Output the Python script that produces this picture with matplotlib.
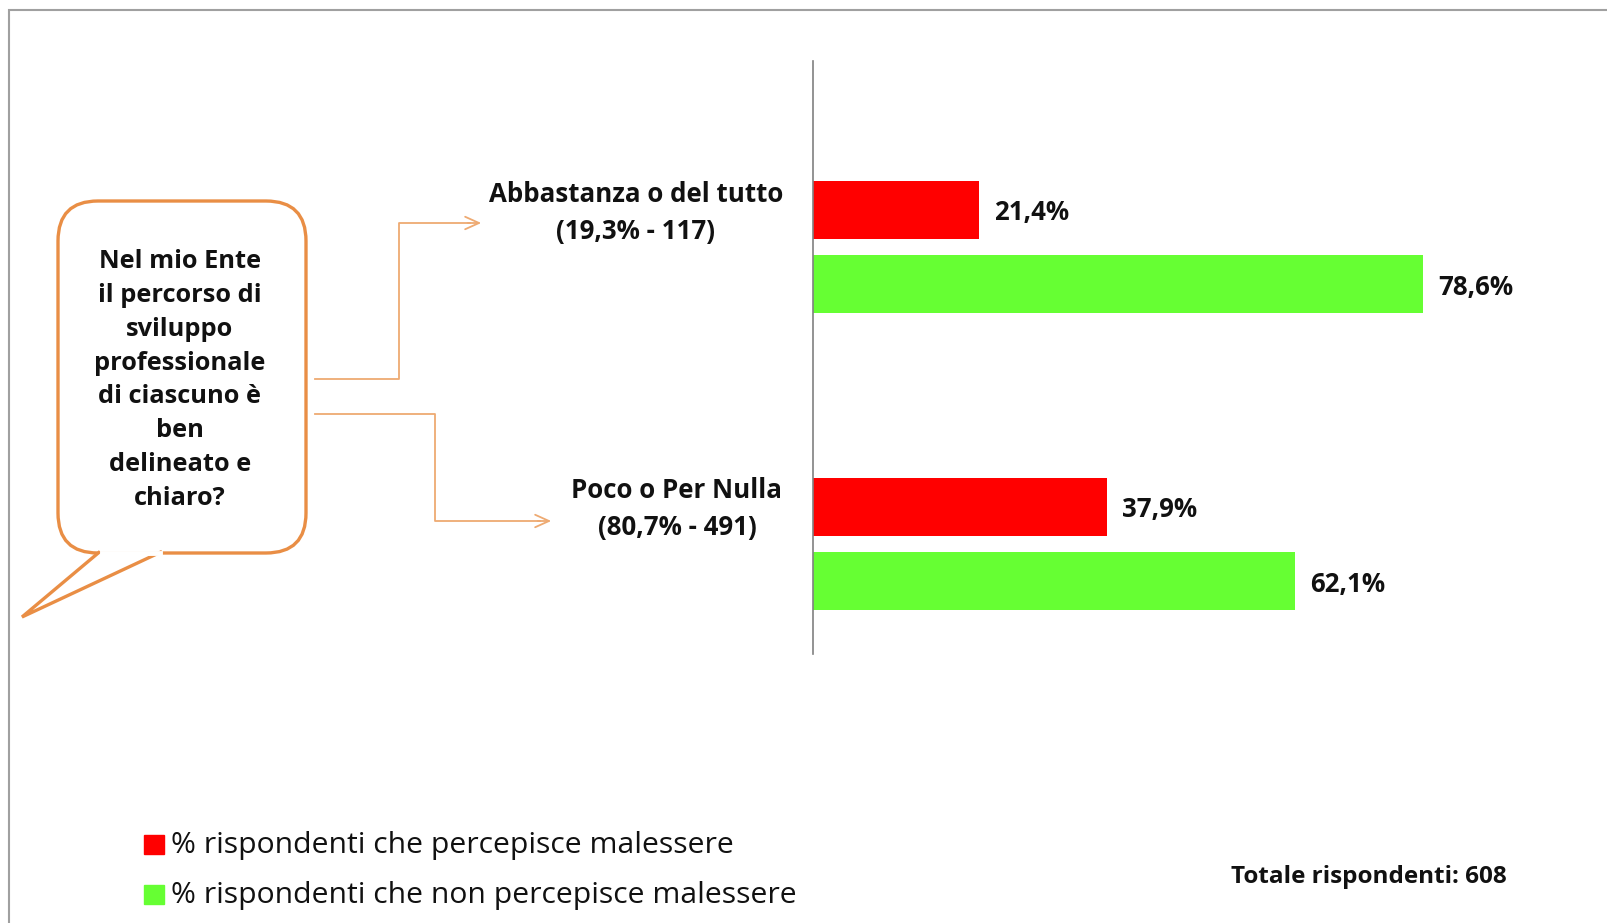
import numpy as np
import matplotlib.pyplot as plt
from matplotlib.patches import FancyBboxPatch, Polygon

plt.rcParams['font.family'] = ['Open Sans', 'DejaVu Sans']

# Data
categories = ["Abbastanza o del tutto", "Poco o Per Nulla"]
category_shares = ["(19,3% - 117)", "(80,7% - 491)"]
malessere = [21.4, 37.9]
no_malessere = [78.6, 62.1]
series_names = ["% rispondenti che percepisce malessere",
                "% rispondenti che non percepisce malessere"]
question = "Nel mio Ente\nil percorso di\nsviluppo\nprofessionale\ndi ciascuno è\nben\ndelineato e\nchiaro?"
total_text = "Totale rispondenti: 608"

RED = "#ff0000"
GREEN = "#66ff33"
ORANGE = "#e98e45"
ORANGE_LIGHT = "#eeaa72"
TXT = "#111111"

W, H = 1608, 923
fig = plt.figure(figsize=(W / 100, H / 100), dpi=100)

# Overlay in pixel coordinates for the decorations
ov = fig.add_axes([0, 0, 1, 1])
ov.set_xlim(0, W)
ov.set_ylim(H, 0)
ov.axis("off")

# frame
ov.plot([9, 9, W], [H, 10, 10], color="#a0a0a0", lw=1.5, solid_joinstyle="miter")

# speech bubble
bx0, by0, bx1, by1 = 58, 201, 306, 553
box = FancyBboxPatch((bx0 + 40, by0 + 40), (bx1 - bx0) - 80, (by1 - by0) - 80,
                     boxstyle="round,pad=40", fc="white", ec=ORANGE, lw=2.4)
ov.add_patch(box)
tail = Polygon([[100, by1 - 1.5], [22, 617], [162, by1 - 1.5]], closed=False,
               fc="white", ec=ORANGE, lw=2.4, joinstyle="miter")
ov.add_patch(tail)
ov.plot([102, 160], [by1, by1], color="white", lw=3.5)
ov.text(180, 380, question, ha="center", va="center", fontsize=18.3,
        fontweight="bold", color=TXT, linespacing=1.47)

# connector arrows
ov.plot([315, 399, 399, 470], [379, 379, 223, 223], color=ORANGE_LIGHT, lw=1.3)
ov.annotate("", xy=(484, 223), xytext=(465, 223),
            arrowprops=dict(arrowstyle="->,head_length=1.0,head_width=0.45",
                            color=ORANGE_LIGHT, lw=1.3))
ov.plot([315, 435, 435, 540], [414, 414, 521, 521], color=ORANGE_LIGHT, lw=1.3)
ov.annotate("", xy=(554, 521), xytext=(535, 521),
            arrowprops=dict(arrowstyle="->,head_length=1.0,head_width=0.45",
                            color=ORANGE_LIGHT, lw=1.3))

# category labels
label_pos = [(636, 195), (677, 491)]
for (lx, ly), cat, share in zip(label_pos, categories, category_shares):
    ov.text(lx, ly, cat, ha="center", va="center", fontsize=18.6,
            fontweight="bold", color=TXT)
    ov.text(lx, ly + 36, share, ha="center", va="center", fontsize=18.6,
            fontweight="bold", color=TXT)

# legend
for (sy, color, name) in [(844, RED, series_names[0]), (894, GREEN, series_names[1])]:
    ov.add_patch(plt.Rectangle((144, sy - 9), 20, 19, color=color))
    ov.text(171, sy + 1, name, ha="left", va="center", fontsize=21.7, color=TXT)

ov.text(1369, 877, total_text, ha="center", va="center", fontsize=17.5,
        fontweight="bold", color=TXT)

# Bars
ax = fig.add_axes([813 / W, (H - 654) / H, 776 / W, 592.5 / H])
ax.patch.set_alpha(0)
y = np.arange(len(categories))
off, h = 0.125, 0.194
r = ax.barh(y - off, malessere, height=h, color=RED)
g = ax.barh(y + off, no_malessere, height=h, color=GREEN)
fmt = lambda v: f"{v:.1f}%".replace(".", ",")
for bars, vals in [(r, malessere), (g, no_malessere)]:
    for t in ax.bar_label(bars, labels=[fmt(v) for v in vals], padding=11,
                          fontsize=18.6, fontweight="bold", color=TXT):
        t.set_va("center_baseline")
ax.set_xlim(0, 100)
ax.set_ylim(1.37, -0.625)
for s in ["top", "right", "bottom"]:
    ax.spines[s].set_visible(False)
ax.spines["left"].set_color("#808080")
ax.spines["left"].set_linewidth(1.2)
ax.set_xticks([])
ax.set_yticks([])

fig.savefig("out.png", dpi=100, facecolor="white")
